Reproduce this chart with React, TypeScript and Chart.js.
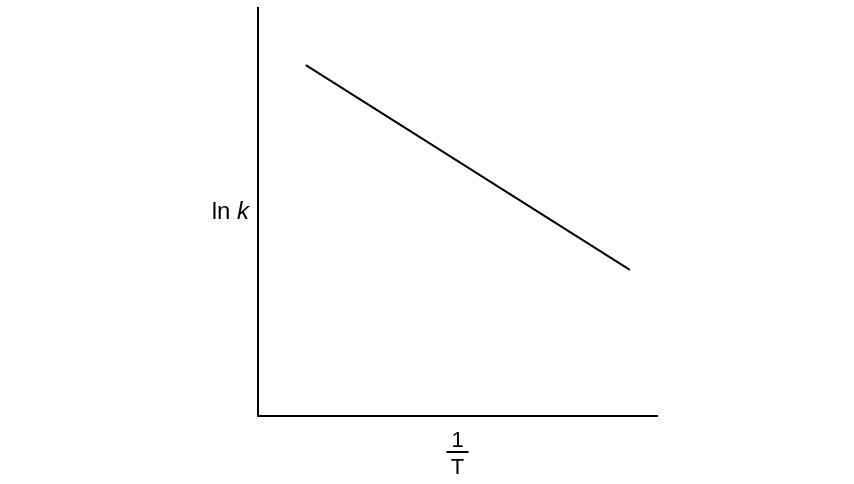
import { useEffect, useRef } from "react"
import { Chart, registerables, Plugin } from "chart.js"

Chart.register(...registerables)

// 1/T (arbitrary units, axis runs 0..100) and ln k (0..100)
const invT = [12.0, 93.2]
const lnK = [86.0, 35.8]

const yLabel = ["ln ", "k"]
const xLabelTop = "1"
const xLabelBottom = "T"

const FONT = '"Liberation Sans", Arial, sans-serif'

const axisLabels: Plugin<"line"> = {
  id: "axisLabels",
  afterDraw(chart) {
    const { ctx, chartArea, scales } = chart
    const x = scales.x
    const y = scales.y
    ctx.save()
    ctx.fillStyle = "#000"

    // ln k, with italic k
    ctx.font = `24px ${FONT}`
    const w1 = ctx.measureText(yLabel[0]).width
    ctx.font = `italic 24px ${FONT}`
    const w2 = ctx.measureText(yLabel[1]).width
    const right = chartArea.left - 9
    const base = y.getPixelForValue(50) + 7
    ctx.textBaseline = "alphabetic"
    ctx.textAlign = "left"
    ctx.font = `24px ${FONT}`
    ctx.fillText(yLabel[0], right - w1 - w2, base)
    ctx.font = `italic 24px ${FONT}`
    ctx.fillText(yLabel[1], right - w2, base)

    // 1 over T
    const cx = x.getPixelForValue(50)
    const barY = chartArea.bottom + 36
    ctx.font = `22px ${FONT}`
    ctx.textAlign = "center"
    ctx.fillText(xLabelTop, cx, barY - 5)
    ctx.fillText(xLabelBottom, cx, barY + 22)
    ctx.fillRect(cx - 11, barY - 1, 22, 2)
    ctx.restore()
  },
}

export default function App() {
  const canvasRef = useRef<HTMLCanvasElement>(null)
  const chartRef = useRef<Chart<"line"> | null>(null)

  useEffect(() => {
    if (!canvasRef.current) return
    chartRef.current?.destroy()

    chartRef.current = new Chart(canvasRef.current, {
      type: "line",
      data: {
        datasets: [
          {
            data: invT.map((v, i) => ({ x: v, y: lnK[i] })),
            borderColor: "#000",
            borderWidth: 2,
            pointRadius: 0,
            fill: false,
            tension: 0,
          },
        ],
      },
      options: {
        animation: false,
        responsive: false,
        devicePixelRatio: 1,
        layout: { padding: { left: 258, right: 197, top: 8, bottom: 68 } },
        plugins: { legend: { display: false }, tooltip: { enabled: false } },
        scales: {
          x: {
            type: "linear",
            min: 0,
            max: 100,
            grid: { display: false, drawTicks: false },
            ticks: { display: false },
            border: { display: true, color: "#000", width: 2 },
          },
          y: {
            type: "linear",
            min: 0,
            max: 100,
            grid: { display: false, drawTicks: false },
            ticks: { display: false },
            border: { display: true, color: "#000", width: 2 },
          },
        },
      },
      plugins: [axisLabels],
    })

    return () => { chartRef.current?.destroy() }
  }, [])

  return (
    <div style={{ position: "fixed", left: 0, top: 0, width: 854, height: 484, background: "#fff" }}>
      <canvas ref={canvasRef} width={854} height={484} aria-label="ln k against 1/T" role="img" />
    </div>
  )
}
